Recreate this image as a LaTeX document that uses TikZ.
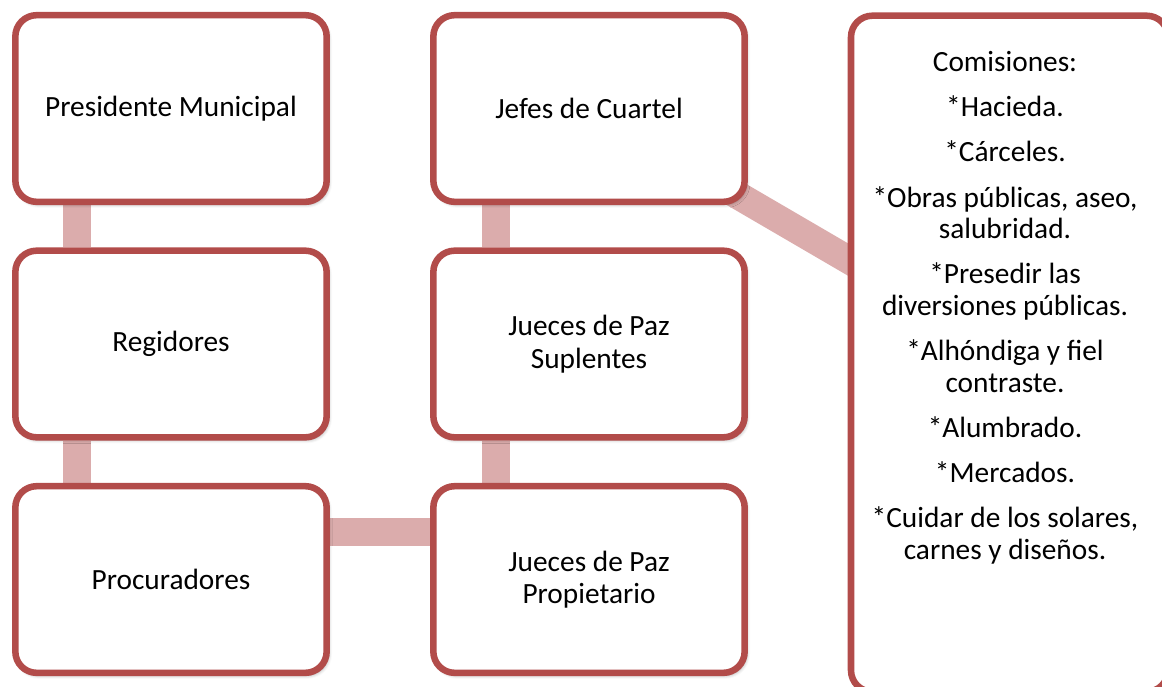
\documentclass[tikz,border=0pt]{standalone}
\usepackage{fontspec}
\setmainfont{Carlito}
\usetikzlibrary{shadows.blur}
\definecolor{bord}{RGB}{178,76,74}
\definecolor{link}{RGB}{219,172,172}
\pgfdeclarelayer{background}
\pgfsetlayers{background,main}
\begin{document}
\begin{tikzpicture}[x=0.75pt,y=-0.75pt,
  box/.style={draw=bord, line width=4.9pt, rounded corners=16pt, fill=white,
    minimum width=233.5pt, minimum height=140pt, align=center, inner sep=0pt,
    font=\fontsize{22}{24.5}\selectfont,
    blur shadow={shadow xshift=1.5pt, shadow yshift=-2pt, shadow blur radius=2.5pt, shadow opacity=35}},
  conn/.style={draw=link, line width=21pt}]
\useasboundingbox (0,0) rectangle (1162,686);
\node[box] (pres) at (171,108.5) {Presidente Municipal};
\node[box] (reg) at (171,344) {Regidores};
\node[box] (proc) at (171,579.5) {Procuradores};
\node[box] (jefes) at (589,108.5) {Jefes de Cuartel};
\node[box] (supl) at (589,344) {Jueces de Paz\\Suplentes};
\node[box] (prop) at (589,579.5) {Jueces de Paz\\Propietario};
\node[box, minimum width=237.75pt, minimum height=507pt] (com) at (1009.5,353.7) {};
\node[font=\fontsize{22}{23.6}\selectfont, align=center, anchor=north, inner sep=0pt] (comtext) at (1005,51)
  {Comisiones:\\[10.35pt]
   *Hacieda.\\[10.35pt]
   *Cárceles.\\[10.35pt]
   *Obras públicas, aseo,\\salubridad.\\[10.35pt]
   *Presedir las\\diversiones públicas.\\[10.35pt]
   *Alhóndiga y fiel\\contraste.\\[10.35pt]
   *Alumbrado.\\[10.35pt]
   *Mercados.\\[10.35pt]
   *Cuidar de los solares,\\carnes y diseños.};
\begin{pgfonlayer}{background}
\draw[conn] ([xshift=48.7pt]pres.south west) -- ([xshift=48.7pt]reg.north west);
\draw[conn] ([xshift=48.7pt]reg.south west) -- ([xshift=48.7pt]proc.north west);
\draw[conn] ([xshift=49.5pt]jefes.south west) -- ([xshift=49.5pt]supl.north west);
\draw[conn] ([xshift=49.5pt]supl.south west) -- ([xshift=49.5pt]prop.north west);
\draw[conn] ([yshift=-36.6pt]proc.north east) -- ([yshift=-36.6pt]prop.north west);
\draw[conn] (jefes.center) -- (com.center);
\end{pgfonlayer}
\end{tikzpicture}
\end{document}
